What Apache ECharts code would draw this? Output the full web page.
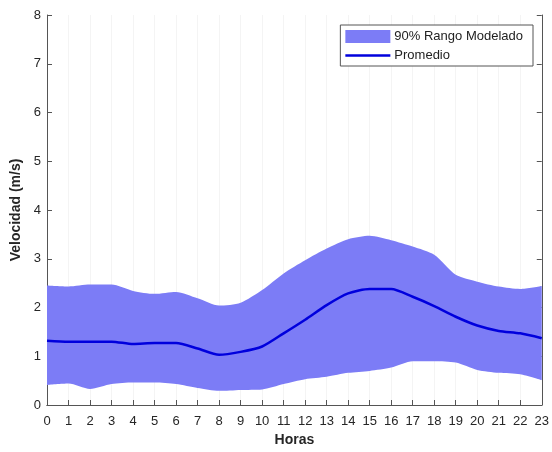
<!DOCTYPE html>
<html>
<head>
<meta charset="utf-8">
<script src="https://cdn.jsdelivr.net/npm/echarts@6/dist/echarts.min.js"></script>
<style>html,body{margin:0;padding:0;background:#fff;}#c{width:552px;height:452px;}</style>
</head>
<body>
<div id="c"></div>
<script>
const hours = ['0','1','2','3','4','5','6','7','8','9','10','11','12','13','14','15','16','17','18','19','20','21','22','23'];
const upper = [2.45,2.43,2.47,2.47,2.34,2.28,2.32,2.19,2.04,2.10,2.36,2.70,2.97,3.21,3.40,3.47,3.38,3.25,3.08,2.67,2.53,2.43,2.38,2.44];
const mean  = [1.32,1.30,1.30,1.30,1.25,1.27,1.27,1.16,1.03,1.09,1.20,1.47,1.75,2.05,2.29,2.38,2.38,2.22,2.03,1.81,1.63,1.52,1.47,1.37];
const lower = [0.41,0.44,0.33,0.43,0.46,0.46,0.43,0.35,0.29,0.31,0.32,0.43,0.53,0.58,0.66,0.70,0.77,0.90,0.90,0.87,0.72,0.66,0.63,0.51];

const bandName = '90% Rango Modelado';
const meanName = 'Promedio';
const bandColor = '#7c7cf6';
const lineColor = '#0000dd';
const axisColor = '#555555';
const textColor = '#262626';
const font = 'Liberation Sans, Arial, Helvetica, sans-serif';
const smooth = 0.25;

const chart = echarts.init(document.getElementById('c'), null, {renderer:'canvas'});
const axisLine = {show: true, lineStyle: {color: axisColor, width: 1}};
const axisTick = {show: true, inside: true, length: 5, lineStyle: {color: axisColor}};
chart.setOption({
  animation: false,
  backgroundColor: '#ffffff',
  grid: {left: 47, right: 9, top: 15, bottom: 47, containLabel: false},
  legend: {
    right: 19, top: 25,
    orient: 'vertical',
    align: 'left',
    backgroundColor: '#ffffff',
    borderColor: '#555555', borderWidth: 1,
    padding: [5, 10, 4, 5],
    itemGap: 6,
    itemWidth: 45, itemHeight: 13,
    textStyle: {fontSize: 13, fontFamily: font, color: '#222', padding: [0, 0, 0, -1]},
    data: [
      {name: bandName, icon: 'rect', itemStyle: {color: bandColor}},
      {name: meanName, icon: 'path://M0,0 L45,0 L45,2.5 L0,2.5 Z', itemStyle: {color: lineColor}}
    ]
  },
  xAxis: [
    {
      type: 'category', data: hours, boundaryGap: false, position: 'bottom',
      axisLine: axisLine,
      axisTick: Object.assign({alignWithLabel: true}, axisTick),
      axisLabel: {color: textColor, fontSize: 13, fontFamily: font, margin: 10, interval: 0},
      splitLine: {show: true, interval: 0, lineStyle: {color: '#f4f4f4', width: 1}},
      name: 'Horas', nameLocation: 'middle', nameGap: 27,
      nameTextStyle: {fontSize: 14, fontWeight: 'bold', fontFamily: font, color: textColor}
    },
    {
      type: 'category', data: hours, boundaryGap: false, position: 'top',
      axisLine: axisLine, axisTick: {show: false}, axisLabel: {show: false}, splitLine: {show: false}
    }
  ],
  yAxis: [
    {
      type: 'value', min: 0, max: 8, interval: 1, position: 'left',
      axisLine: axisLine, axisTick: axisTick, splitLine: {show: false},
      axisLabel: {color: textColor, fontSize: 13, fontFamily: font, margin: 6},
      name: 'Velocidad (m/s)', nameLocation: 'middle', nameGap: 22,
      nameTextStyle: {fontSize: 14, fontWeight: 'bold', fontFamily: font, color: textColor}
    },
    {
      type: 'value', min: 0, max: 8, interval: 1, position: 'right',
      axisLine: axisLine, axisTick: axisTick, splitLine: {show: false}, axisLabel: {show: false}
    }
  ],
  series: [
    {
      name: 'lowerBase', type: 'line', stack: 'band',
      data: lower, smooth: smooth,
      symbol: 'none', lineStyle: {opacity: 0}, silent: true, z: 1
    },
    {
      name: bandName, type: 'line', stack: 'band',
      data: upper.map((u, i) => +(u - lower[i]).toFixed(3)), smooth: smooth,
      symbol: 'none', lineStyle: {opacity: 0},
      itemStyle: {color: bandColor},
      areaStyle: {color: bandColor, opacity: 1}, z: 2
    },
    {
      name: meanName, type: 'line',
      data: mean, smooth: smooth,
      symbol: 'none', itemStyle: {color: lineColor},
      lineStyle: {color: lineColor, width: 2.5}, z: 3
    }
  ]
});
</script>
</body>
</html>
